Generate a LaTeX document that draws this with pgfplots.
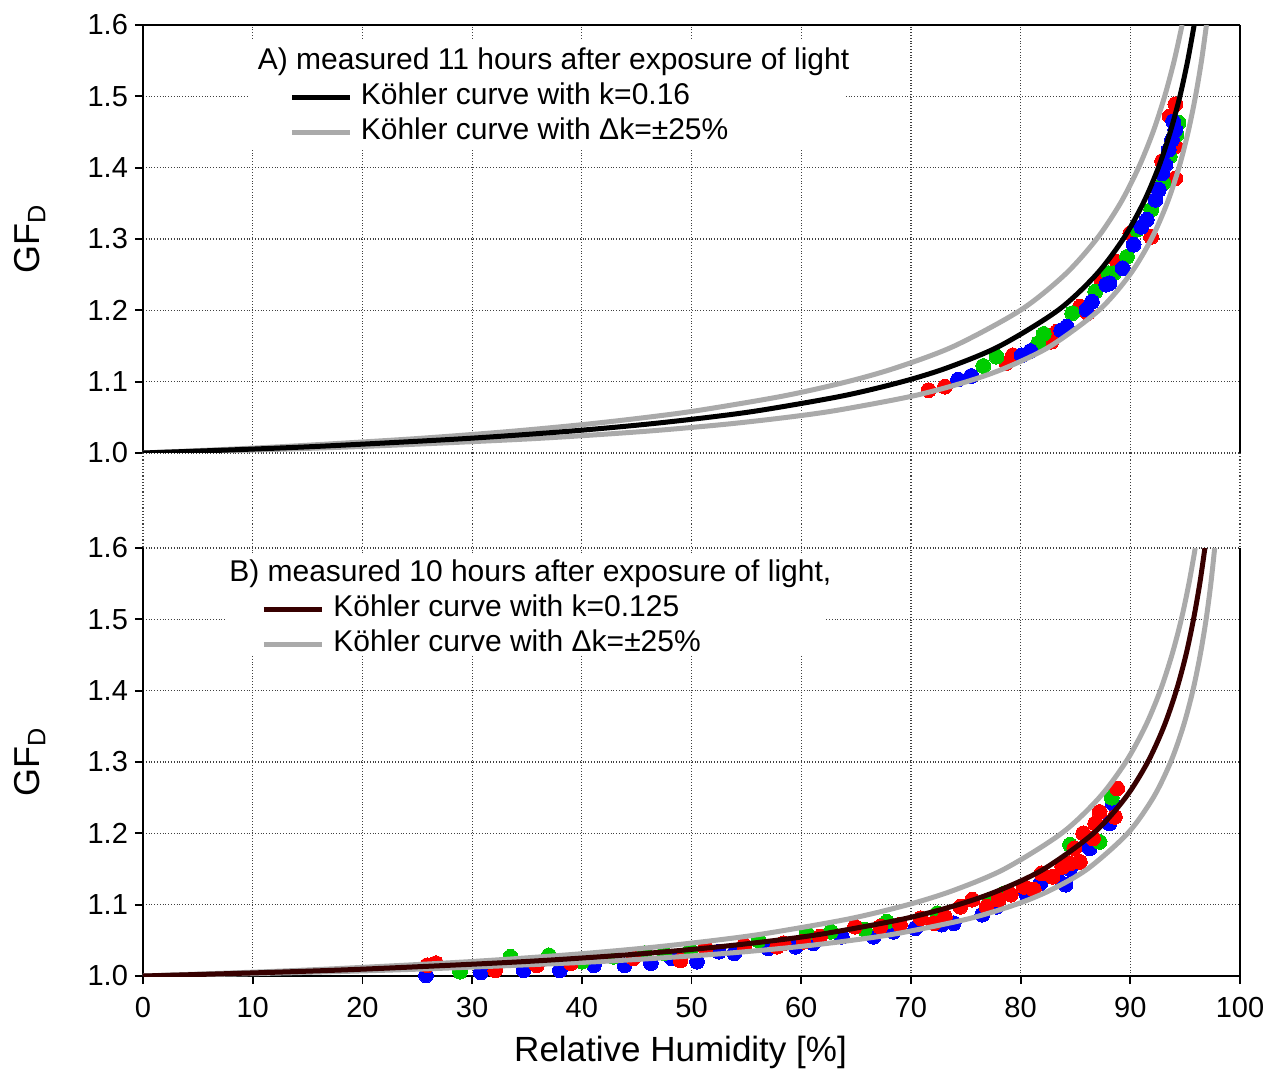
\documentclass[border=0pt]{standalone}
\usepackage{fontspec}
\setmainfont{Liberation Sans}
\usepackage{pgfplots}
\pgfplotsset{compat=1.18}
\definecolor{kgray}{RGB}{170,170,170}
\definecolor{kdark}{RGB}{55,0,0}
\definecolor{pred}{RGB}{255,0,0}
\definecolor{pgreen}{RGB}{0,205,0}
\definecolor{pblue}{RGB}{0,0,255}
\pgfplotsset{
  myax/.style={
    scale only axis, width=548.5pt, height=214pt,
    xmin=0, xmax=100, ymin=1.0, ymax=1.6,
    xtick={0,10,20,30,40,50,60,70,80,90,100},
    ytick={1.0,1.1,1.2,1.3,1.4,1.5,1.6},
    grid=major, major grid style={densely dotted, black!75, line width=0.6pt},
    tick align=outside, major tick length=4pt, ytick pos=left,
    y tick label style={/pgf/number format/.cd, fixed, fixed zerofill, precision=1},
    tick label style={font=\fontsize{14.5}{16}\selectfont},
    /pgf/number format/assume math mode=true,
    axis line style={line width=1.1pt},
    every tick/.style={black, line width=0.9pt},
    ylabel={GF\textsubscript{D}},
    ylabel style={at={(axis description cs:-0.103,0.5)}, anchor=center, font=\fontsize{18}{21}\selectfont},
    clip mode=individual,
    legend image code/.code={\draw[#1] (0pt,0pt) -- (29pt,0pt);},
    legend cell align=left,
  },
  dots/.style={only marks, mark=*, mark size=3.7pt, color=#1, mark options={solid, fill=#1, draw=#1, line width=0pt}},
  curve/.style={line width=2.5pt, #1, smooth},
}
\begin{document}
\begin{tikzpicture}
\useasboundingbox (-71.5pt,-47.5pt) rectangle (562pt,488pt);
% ---------------- top panel ----------------
\begin{axis}[myax, at={(0,261.5pt)}, anchor=south west,
  axis x line*=top, xticklabels={}, xtick style={draw=none},
  legend style={draw=none, fill=none, at={(rel axis cs:0.1335,0.948)}, anchor=north west,
    inner sep=0pt, row sep=3pt, column sep=4pt, font=\fontsize{15}{18}\selectfont,
    nodes={inner sep=0pt, text height=11pt, text depth=3.5pt}},
]
\fill[white] (rel axis cs:0.0957,0.713) rectangle (rel axis cs:0.640,0.965);
\pgfplotsinvokeforeach{0,10,20,30,40,50,60,70,80,90,100}{\draw[densely dotted, black!75, line width=0.6pt] (axis cs:#1,1) -- (axis cs:#1,0.8668);}
\addplot[dots=pred, forget plot] coordinates {(71.6,1.088)(73.1,1.093)(78.7,1.126)(79.3,1.137)(82.8,1.156)(83.3,1.170)(85.4,1.205)(86.1,1.196)(87.4,1.240)(88.8,1.268)(90.0,1.308)(91.9,1.303)(94.1,1.385)(92.9,1.409)(94.1,1.430)(93.6,1.472)(94.1,1.489)};
\addplot[dots=pgreen, forget plot] coordinates {(76.6,1.122)(77.8,1.135)(81.6,1.154)(82.1,1.167)(84.7,1.196)(86.8,1.226)(88.0,1.252)(88.5,1.252)(89.7,1.275)(90.6,1.313)(91.9,1.341)(93.0,1.378)(93.6,1.416)(94.2,1.446)(94.4,1.463)};
\addplot[dots=pblue, forget plot] coordinates {(74.3,1.103)(75.5,1.108)(80.1,1.137)(80.9,1.143)(83.7,1.172)(84.2,1.177)(86.0,1.201)(86.5,1.212)(87.8,1.236)(88.1,1.238)(89.3,1.259)(90.3,1.292)(91.0,1.317)(91.5,1.327)(92.3,1.355)(92.6,1.369)(92.9,1.392)(93.2,1.404)(93.5,1.425)(93.8,1.439)(94.1,1.453)(93.9,1.465)};
% k=0.12 (-25%)
\addplot[curve=kgray, forget plot] coordinates {(0,1.000)(11.88,1.005)(21.33,1.01)(35.44,1.02)(45.45,1.03)(52.92,1.04)(58.71,1.05)(63.32,1.06)(70.21,1.08)(75.09,1.10)(78.74,1.12)(82.74,1.15)(87.13,1.20)(89.96,1.25)(91.92,1.30)(93.35,1.35)(94.43,1.40)(95.27,1.45)(95.94,1.50)(96.49,1.55)(96.94,1.60)};
% k=0.20 (+25%)
\addplot[curve=kgray, forget plot] coordinates {(0,1.000)(7.48,1.005)(13.98,1.01)(24.74,1.02)(33.27,1.03)(40.20,1.04)(45.93,1.05)(50.76,1.06)(58.41,1.08)(64.21,1.10)(68.75,1.12)(73.96,1.15)(79.97,1.20)(84.03,1.25)(86.93,1.30)(89.09,1.35)(90.75,1.40)(92.07,1.45)(93.13,1.50)(94.00,1.55)(94.72,1.60)};
% k=0.16
\addplot[curve=black, forget plot] coordinates {(0,1.000)(9.18,1.005)(16.89,1.01)(29.14,1.02)(38.42,1.03)(45.69,1.04)(51.54,1.05)(56.35,1.06)(63.77,1.08)(69.23,1.10)(73.41,1.12)(78.10,1.15)(83.40,1.20)(86.89,1.25)(89.35,1.30)(91.17,1.35)(92.56,1.40)(93.64,1.45)(94.52,1.50)(95.23,1.55)(95.82,1.60)};
\addlegendimage{empty legend}
\addlegendentry{\hspace*{-51.5pt}A) measured 11 hours after exposure of light}
\addlegendimage{black, line width=2.5pt}
\addlegendentry{Köhler curve with k=0.16}
\addlegendimage{kgray, line width=2.5pt}
\addlegendentry{Köhler curve with Δk=±25\%}
\end{axis}
% ---------------- bottom panel ----------------
\begin{axis}[myax, at={(0,0)}, anchor=south west,
  axis x line*=bottom, xtick pos=bottom,
  x tick label style={yshift=-3pt},
  xlabel={Relative Humidity [\%]},
  xlabel style={at={(axis description cs:0.49,-0.178)}, anchor=center, font=\fontsize{17.5}{20}\selectfont},
  legend style={draw=none, fill=none, at={(rel axis cs:0.1075,0.974)}, anchor=north west,
    inner sep=0pt, row sep=3pt, column sep=4.5pt, font=\fontsize{15}{18}\selectfont,
    nodes={inner sep=0pt, text height=11pt, text depth=3.5pt}},
]
\fill[white] (rel axis cs:0.0748,0.75) rectangle (rel axis cs:0.6217,0.984);
\addplot[dots=pblue, forget plot] coordinates {(25.8,1.001)(30.8,1.005)(34.7,1.008)(38.0,1.008)(41.1,1.015)(43.9,1.015)(46.3,1.018)(48.2,1.025)(50.5,1.020)(52.5,1.034)(53.9,1.032)(57.0,1.039)(59.5,1.041)(61.1,1.046)(63.7,1.055)(66.6,1.055)(68.4,1.062)(70.4,1.067)(72.8,1.072)(73.9,1.074)(76.5,1.086)(77.8,1.097)(80.5,1.115)(81.8,1.130)(83.3,1.139)(84.1,1.128)(84.5,1.150)(86.3,1.179)(88.1,1.214)(88.4,1.242)};
\addplot[dots=pgreen, forget plot] coordinates {(28.9,1.006)(33.5,1.027)(37.0,1.029)(40.0,1.020)(42.9,1.027)(45.7,1.032)(47.5,1.032)(49.9,1.036)(56.1,1.050)(60.5,1.060)(62.7,1.062)(65.8,1.065)(67.8,1.076)(72.4,1.088)(77.2,1.107)(78.5,1.116)(84.5,1.184)(87.2,1.188)(88.3,1.250)};
\addplot[dots=pred, forget plot] coordinates {(25.9,1.015)(26.7,1.018)(32.1,1.008)(35.9,1.015)(39.0,1.018)(44.7,1.025)(49.0,1.022)(51.3,1.039)(54.8,1.043)(57.8,1.041)(58.4,1.046)(60.2,1.048)(61.7,1.055)(64.9,1.069)(67.2,1.069)(69.0,1.072)(70.9,1.081)(72.1,1.074)(73.1,1.083)(74.5,1.097)(75.6,1.107)(76.9,1.097)(78.0,1.107)(79.1,1.114)(80.3,1.125)(81.2,1.121)(81.9,1.144)(82.9,1.139)(83.8,1.153)(84.5,1.158)(85.4,1.160)(84.9,1.179)(85.7,1.200)(86.6,1.193)(86.8,1.214)(87.2,1.230)(88.6,1.223)(88.8,1.263)};
% k=0.09375
\addplot[curve=kgray, forget plot] coordinates {(0,1.000)(14.72,1.005)(25.78,1.01)(41.29,1.02)(51.65,1.03)(59.05,1.04)(64.60,1.05)(68.92,1.06)(75.19,1.08)(79.51,1.10)(82.68,1.12)(86.09,1.15)(89.76,1.20)(92.09,1.25)(93.68,1.30)(94.83,1.35)(95.70,1.40)(96.37,1.45)(96.91,1.50)(97.34,1.55)(97.69,1.60)};
% k=0.15625
\addplot[curve=kgray, forget plot] coordinates {(0,1.000)(9.38,1.005)(17.23,1.01)(29.63,1.02)(38.98,1.03)(46.28,1.04)(52.14,1.05)(56.93,1.06)(64.32,1.08)(69.74,1.10)(73.88,1.12)(78.52,1.15)(83.73,1.20)(87.17,1.25)(89.59,1.30)(91.37,1.35)(92.73,1.40)(93.79,1.45)(94.65,1.50)(95.34,1.55)(95.92,1.60)};
% k=0.125
\addplot[curve=kdark, forget plot] coordinates {(0,1.000)(11.46,1.005)(20.65,1.01)(34.50,1.02)(44.43,1.03)(51.89,1.04)(57.70,1.05)(62.35,1.06)(69.33,1.08)(74.31,1.10)(78.03,1.12)(82.13,1.15)(86.64,1.20)(89.56,1.25)(91.59,1.30)(93.07,1.35)(94.19,1.40)(95.07,1.45)(95.76,1.50)(96.33,1.55)(96.80,1.60)};
\addlegendimage{empty legend}
\addlegendentry{\hspace*{-52pt}B) measured 10 hours after exposure of light,}
\addlegendimage{kdark, line width=2.5pt}
\addlegendentry{Köhler curve with k=0.125}
\addlegendimage{kgray, line width=2.5pt}
\addlegendentry{Köhler curve with Δk=±25\%}
\end{axis}
\end{tikzpicture}
\end{document}
